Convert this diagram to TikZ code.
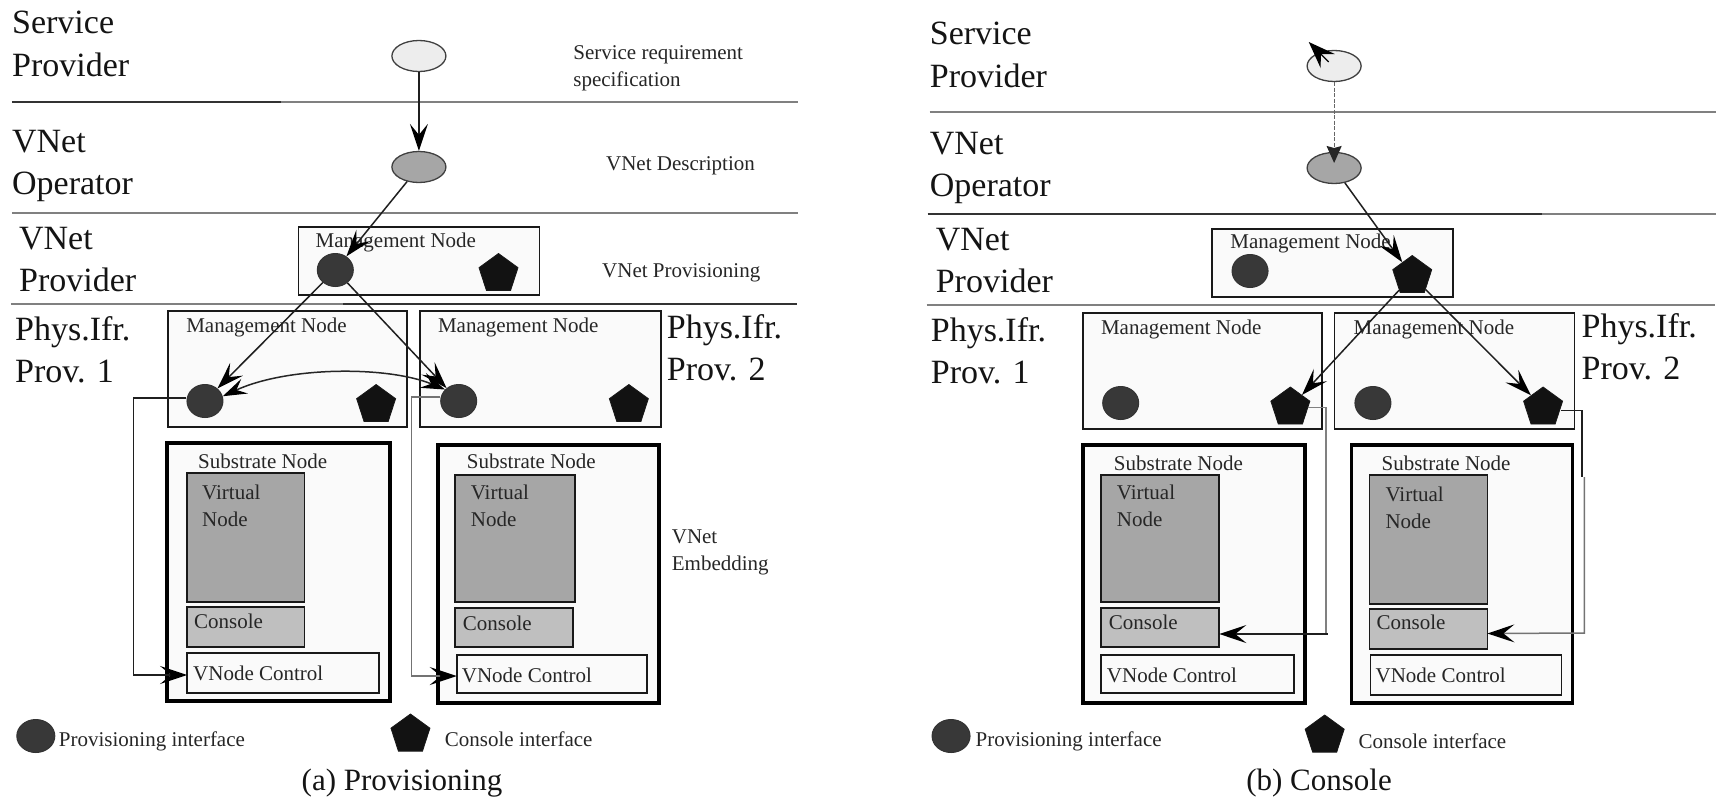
\documentclass[tikz,border=0pt]{standalone}
\usepackage{fontspec}
\setmainfont{Liberation Serif}
\usetikzlibrary{arrows.meta,shapes.geometric}
\tikzset{
  bigtext/.style={font=\fontsize{34}{42}\selectfont,align=left,anchor=base west,inner sep=0pt,text=black!92},
  smalltext/.style={font=\fontsize{21}{27}\selectfont,align=left,anchor=base west,inner sep=0pt,text=black!85},
  captext/.style={font=\fontsize{31}{36}\selectfont,anchor=base west,inner sep=0pt,text=black!92},
  rulebase/.style={line width=2pt},
  darkrule/.style={rulebase,draw=black!80},
  greyrule/.style={rulebase,draw=black!50},
  thinbox/.style={rectangle,draw=black!90,line width=1.7pt,fill=black!2,inner sep=0pt,outer sep=0pt,anchor=north west},
  subbox/.style={rectangle,draw=black,line width=3.4pt,fill=black!2,inner sep=0pt,outer sep=0pt,anchor=north west},
  vbox/.style={thinbox,fill=black!35},
  conbox/.style={thinbox,fill=black!25},
  reqnode/.style={ellipse,draw=black!75,line width=1.3pt,fill=black!7,minimum width=54pt,minimum height=31pt,inner sep=0pt},
  descnode/.style={reqnode,fill=black!35},
  prov/.style={ellipse,draw=black!80,line width=1pt,fill=black!78,minimum width=36pt,minimum height=33pt,inner sep=0pt},
  cons/.style={regular polygon,regular polygon sides=5,draw=black!90,line width=.8pt,fill=black!93,minimum size=41pt,inner sep=0pt},
  barb/.style={-{Stealth[length=27pt,width=18pt,inset=11pt,color=black]},line width=1.5pt,draw=black!88},
  lightbarb/.style={barb,draw=black!55},
  dashedarrow/.style={-{Stealth[length=17pt,width=15pt,inset=2pt,color=black!85]},line width=1.2pt,draw=black!60,dash pattern=on 4pt off 1.5pt},
  twobarb/.style={{Stealth[length=24pt,width=16pt,inset=9pt,color=black]}-{Stealth[length=24pt,width=16pt,inset=9pt,color=black]},line width=1.5pt,draw=black!85},
}
\begin{document}
\begin{tikzpicture}[x=.995pt,y=-1pt]
\useasboundingbox (0,0) rectangle (1724.6,797);

% ---------- rules, panel (a)
\coordinate (la1) at (12,102); \coordinate (la1m) at (282,102); \coordinate (la1e) at (802,102);
\coordinate (la2) at (12,212.5); \coordinate (la2e) at (802,212.5);
\coordinate (la3) at (11,303.5); \coordinate (la3m) at (345,303.5); \coordinate (la3e) at (801,303.5);
\draw[greyrule] (la1m) -- (la1e); \draw[darkrule] (la1) -- (la1m);
\draw[greyrule] (la2) -- (la2e);
\draw[greyrule] (la3) -- (la3m); \draw[darkrule] (la3m) -- (la3e);

% ---------- labels, panel (a)
\node[bigtext] (a1) at (12,76) {Service\\Provider};
\node[bigtext] (a2) at (12,194) {VNet\\Operator};
\node[bigtext] (a3) at (19,291) {VNet\\Provider};
\node[bigtext] (a4) at (15,382) {Phys.Ifr.\\Prov. 1};
\node[bigtext] (a5) at (670,380) {Phys.Ifr.\\Prov. 2};
\node[smalltext] (a6) at (576,86) {Service requirement\\specification};
\node[smalltext] (a7) at (609,170) {VNet Description};
\node[smalltext] (a8) at (605,277) {VNet Provisioning};
\node[smalltext] (a9) at (675,570) {VNet\\Embedding};

% ---------- boxes, panel (a)
\node[thinbox,minimum width=241pt,minimum height=68pt] (am) at (300,227) {};
\node[smalltext] (amt) at (317,247) {Management Node};
\node[thinbox,minimum width=239pt,minimum height=116pt] (am1) at (169,311) {};
\node[smalltext] (am1t) at (187,332) {Management Node};
\node[thinbox,minimum width=241pt,minimum height=116pt] (am2) at (422,311) {};
\node[smalltext] (am2t) at (440,332) {Management Node};

\node[subbox,minimum width=223pt,minimum height=258pt] (as1) at (168,443) {};
\node[smalltext] (as1t) at (199,468) {Substrate Node};
\node[vbox,minimum width=117.5pt,minimum height=129pt] (av1) at (188,473) {};
\node[smalltext] (av1t) at (203,526) {Virtual\\Node};
\node[conbox,minimum width=117.5pt,minimum height=40pt] (ac1) at (188,607) {};
\node[smalltext] (ac1t) at (195,628) {Console};
\node[thinbox,minimum width=192pt,minimum height=40pt] (ak1) at (188,653) {};
\node[smalltext] (ak1t) at (194,680) {VNode Control};

\node[subbox,minimum width=221pt,minimum height=258pt] (as2) at (440,445) {};
\node[smalltext] (as2t) at (469,468) {Substrate Node};
\node[vbox,minimum width=120.5pt,minimum height=127pt] (av2) at (457,475) {};
\node[smalltext] (av2t) at (473,526) {Virtual\\Node};
\node[conbox,minimum width=118.5pt,minimum height=39pt] (ac2) at (457,608) {};
\node[smalltext] (ac2t) at (465,630) {Console};
\node[thinbox,minimum width=190pt,minimum height=38pt] (ak2) at (459,655) {};
\node[smalltext] (ak2t) at (464,682) {VNode Control};

% ---------- interfaces, panel (a)
\node[reqnode] (ar) at (421,56) {};
\node[descnode] (ad) at (421,167) {};
\node[prov] (ap) at (337,270) {};
\node[cons] (aq) at (501,274) {};
\node[prov] (ap1) at (206,401) {};
\node[cons] (aq1) at (378,405) {};
\node[prov] (ap2) at (461,401) {};
\node[cons] (aq2) at (632,405) {};

% ---------- connectors, panel (a)
\draw[barb] (ar) -- (ad);
\draw[barb] (ad) -- (ap);
\draw[barb] (ap) -- (ap1);
\draw[barb] (ap) -- (ap2);
\draw[twobarb] (ap2.140) .. controls (390,366) and (290,366) .. (ap1.15);
\draw[barb] ([yshift=3pt]ap1.west) -- ++(-53,0) |- ([yshift=-2pt]ak1.west);
\draw[lightbarb] ([yshift=4pt]ap2.west) -- ++(-29,0) |- ([yshift=-2pt]ak2.west);

% ---------- legend, panel (a)
\node[prov,minimum width=38pt] (alp) at (36,736) {};
\node[smalltext] (alpt) at (59,746) {Provisioning interface};
\node[cons] (alq) at (412.5,734.5) {};
\node[smalltext] (alqt) at (447,746) {Console interface};
\node[captext] (acap) at (303,790) {(a) Provisioning};

\begin{scope}[xshift=4.29pt]
% ---------- rules, panel (b)
\coordinate (lb1) at (930,112); \coordinate (lb1m) at (1298,112); \coordinate (lb1e) at (1720,112);
\coordinate (lb2) at (928,213.5); \coordinate (lb2m) at (1545,213.5); \coordinate (lb2e) at (1720,213.5);
\coordinate (lb3) at (927,305); \coordinate (lb3e) at (1719,305);
\draw[greyrule] (lb1) -- (lb1e);
\draw[greyrule] (lb2m) -- (lb2e); \draw[darkrule] (lb2) -- (lb2m);
\draw[greyrule] (lb3) -- (lb3e);

% ---------- labels, panel (b)
\node[bigtext] (b1) at (930,87) {Service\\Provider};
\node[bigtext] (b2) at (930,196) {VNet\\Operator};
\node[bigtext] (b3) at (936,292) {VNet\\Provider};
\node[bigtext] (b4) at (931,383) {Phys.Ifr.\\Prov. 1};
\node[bigtext] (b5) at (1585,379) {Phys.Ifr.\\Prov. 2};

% ---------- boxes, panel (b)
\node[thinbox,minimum width=241pt,minimum height=68pt] (bm) at (1214,229) {};
\node[smalltext] (bmt) at (1232,248) {Management Node};
\node[thinbox,minimum width=239pt,minimum height=116pt] (bm1) at (1084,313) {};
\node[smalltext] (bm1t) at (1102,334) {Management Node};
\node[thinbox,minimum width=240pt,minimum height=116pt] (bm2) at (1337,313) {};
\node[smalltext] (bm2t) at (1356,334) {Management Node};

\node[subbox,minimum width=222pt,minimum height=258pt] (bs1) at (1084,445) {};
\node[smalltext] (bs1t) at (1115,470) {Substrate Node};
\node[vbox,minimum width=118.5pt,minimum height=127pt] (bv1) at (1102,475) {};
\node[smalltext] (bv1t) at (1118,526) {Virtual\\Node};
\node[conbox,minimum width=118.5pt,minimum height=39pt] (bc1) at (1102,608) {};
\node[smalltext] (bc1t) at (1110,629) {Console};
\node[thinbox,minimum width=193pt,minimum height=38pt] (bk1) at (1102,655) {};
\node[smalltext] (bk1t) at (1108,682) {VNode Control};

\node[subbox,minimum width=221pt,minimum height=258pt] (bs2) at (1354,445) {};
\node[smalltext] (bs2t) at (1384,470) {Substrate Node};
\node[vbox,minimum width=118pt,minimum height=129pt] (bv2) at (1372,475) {};
\node[smalltext] (bv2t) at (1388,528) {Virtual\\Node};
\node[conbox,minimum width=118pt,minimum height=40pt] (bc2) at (1372,609) {};
\node[smalltext] (bc2t) at (1379,629) {Console};
\node[thinbox,minimum width=191pt,minimum height=40pt] (bk2) at (1373,655) {};
\node[smalltext] (bk2t) at (1378,682) {VNode Control};

% ---------- interfaces, panel (b)
\node[reqnode] (br) at (1336.5,66) {};
\node[descnode] (bd) at (1336.5,168) {};
\node[prov] (bp) at (1252,271) {};
\node[cons] (bq) at (1415,276) {};
\node[prov] (bp1) at (1122,403) {};
\node[cons] (bq1) at (1292.5,407.5) {};
\node[prov] (bp2) at (1375.5,403) {};
\node[cons] (bq2) at (1546.5,407.5) {};

% ---------- connectors, panel (b)
\coordinate (bfree) at (1311,42);
\coordinate (btail) at (1331,62);
\draw[-{Stealth[length=27pt,width=20pt,inset=10pt,color=black]},line width=1.3pt] (btail) -- (bfree);
\draw[dashedarrow] (br) -- ([yshift=5pt]bd.center);
\draw[barb] (bd) -- (bq);
\draw[barb] (bq) -- (bq1);
\draw[barb] (bq) -- (bq2);
\draw[greyrule,line width=1.5pt] (bq1.east) -- ++(18,0) -- ++(0,226.5);
\draw[barb] ([yshift=-6.5pt]bc1.east) ++(109,0) -- ([yshift=-6.5pt]bc1.east);
\draw[line width=1.5pt,draw=black!88] ([yshift=-3pt]bq2.east) -- ++(21,0) -- ++(0,66);
\draw[lightbarb] (1588,477) -- (1588,633) -- ([yshift=-4.5pt]bc2.east);

% ---------- legend, panel (b)
\node[prov,minimum width=38pt] (blp) at (951.5,736) {};
\node[smalltext] (blpt) at (976,746) {Provisioning interface};
\node[cons] (blq) at (1327,735.5) {};
\node[smalltext] (blqt) at (1361,748) {Console interface};
\node[captext] (bcap) at (1248,790) {(b) Console};
\end{scope}
\end{tikzpicture}
\end{document}
